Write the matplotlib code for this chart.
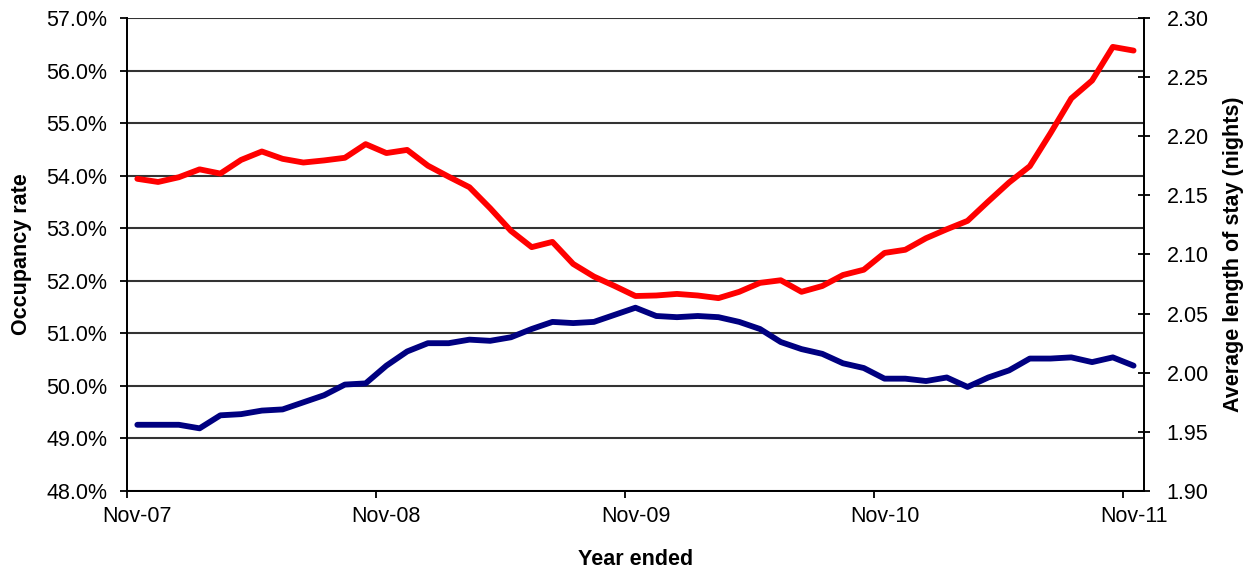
import matplotlib
matplotlib.use('Agg')
import matplotlib.pyplot as plt
from matplotlib.ticker import FuncFormatter

plt.rcParams['font.family'] = ['Liberation Sans', 'DejaVu Sans']

# Monthly series, year ended Nov-07 through Nov-11
year_labels = ["Nov-07", "Nov-08", "Nov-09", "Nov-10", "Nov-11"]

occupancy = [53.94, 53.88, 53.97, 54.12, 54.04, 54.30, 54.46, 54.32, 54.25, 54.29,
             54.34, 54.60, 54.43, 54.49, 54.19, 53.98, 53.78, 53.38, 52.95, 52.64,
             52.74, 52.32, 52.08, 51.90, 51.71, 51.72, 51.75, 51.72, 51.67, 51.79,
             51.96, 52.01, 51.79, 51.90, 52.11, 52.21, 52.53, 52.59, 52.81, 52.98,
             53.14, 53.51, 53.87, 54.18, 54.81, 55.47, 55.81, 56.45, 56.38]

length_of_stay = [1.956, 1.956, 1.956, 1.953, 1.964, 1.965, 1.968, 1.969, 1.975, 1.981,
                  1.990, 1.991, 2.006, 2.018, 2.025, 2.025, 2.028, 2.027, 2.030, 2.037,
                  2.043, 2.042, 2.043, 2.049, 2.055, 2.048, 2.047, 2.048, 2.047, 2.043,
                  2.037, 2.026, 2.020, 2.016, 2.008, 2.004, 1.995, 1.995, 1.993, 1.996,
                  1.988, 1.996, 2.002, 2.012, 2.012, 2.013, 2.009, 2.013, 2.006]

months = list(range(len(occupancy)))

fig = plt.figure(figsize=(12.52, 5.73), dpi=100)
ax = fig.add_axes([0.1014, 0.1431, 0.8123, 0.8255])
ax2 = ax.twinx()

ax.plot(months, occupancy, color="#ff0000", linewidth=4.2, solid_capstyle="round", zorder=3)
ax2.plot(months, length_of_stay, color="#000080", linewidth=4.2, solid_capstyle="round", zorder=3)

# Category-style x axis: each month sits in the middle of its slot,
# tick marks on the slot boundaries, labels on the Nov months
ax.set_xlim(-0.5, len(months) - 0.5)
ax.set_xticks([-0.5 + 12 * i for i in range(len(year_labels))])
ax.set_xticklabels([])
ax.set_xticks([12 * i for i in range(len(year_labels))], minor=True)
ax.set_xticklabels(year_labels, minor=True)
ax.tick_params(axis="x", which="minor", length=0, labelsize=15.5, pad=10.5)

ax.set_ylim(48, 57)
ax.set_yticks(range(48, 58))
ax.yaxis.set_major_formatter(FuncFormatter(lambda v, p: "%.1f%%" % v))
ax.grid(axis="y", color="#333333", linewidth=1.5)
ax.set_axisbelow(True)

ax2.set_ylim(1.90, 2.30)
ax2.set_yticks([1.90 + 0.05 * i for i in range(9)])
ax2.yaxis.set_major_formatter(FuncFormatter(lambda v, p: "%.2f" % v))

for a in (ax, ax2):
    a.spines["top"].set_visible(False)
    for s in ("left", "right", "bottom"):
        a.spines[s].set_linewidth(1.3)
        a.spines[s].set_color("black")
    a.tick_params(which="major", labelsize=15.5, width=1.3, length=5, color="black")
ax.tick_params(axis="y", pad=9)
ax2.tick_params(axis="y", direction="inout", length=9, pad=12)

ax.set_xlabel("Year ended", fontsize=15.5, fontweight="bold", labelpad=16)
ax.set_ylabel("Occupancy rate", fontsize=15.5, fontweight="bold", labelpad=10)
ax2.set_ylabel("Average length of stay (nights)", fontsize=15.5, fontweight="bold",
               labelpad=10)

fig.savefig("out.png", dpi=100)
